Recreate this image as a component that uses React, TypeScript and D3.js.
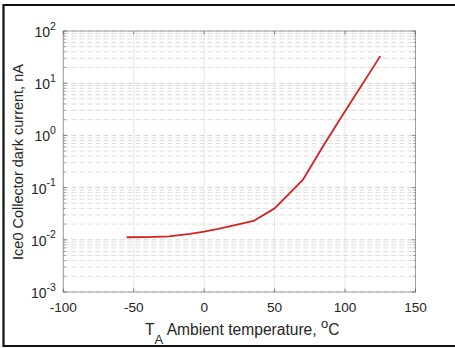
import * as d3 from 'd3'

// Ice0 collector dark current vs ambient temperature
const temps = [-55, -40, -25, -10, 0, 10, 25, 35, 50, 70, 85, 100, 125]
const current = [0.0112, 0.0113, 0.0116, 0.013, 0.0144, 0.0162, 0.02, 0.023, 0.04, 0.14, 0.66, 2.9, 33]

const xTicks = [-100, -50, 0, 50, 100, 150]
const yExps = [-3, -2, -1, 0, 1, 2]

const W = 455
const H = 348
const margin = { left: 63.3, right: 455 - 415.5, top: 31, bottom: 348 - 292 }
const font = 'Liberation Sans, Arial, Helvetica, sans-serif'

export default function App() {
  const x = d3.scaleLinear().domain([-100, 150]).range([margin.left, W - margin.right])
  const y = d3.scaleLog().domain([1e-3, 1e2]).range([H - margin.bottom, margin.top])
  const [x0, x1] = x.range()
  const [yb, yt] = y.range()

  // minor grid values 2..9 in each decade
  const minors: number[] = []
  yExps.slice(0, -1).forEach(e => {
    for (let k = 2; k <= 9; k++) minors.push(k * Math.pow(10, e))
  })

  const line = d3.line<number>().x((_, i) => x(temps[i])).y(d => y(d))

  return (
    <svg width={W} height={H} style={{ position: 'absolute', left: 0, top: 0, background: '#fff' }}
      fontFamily={font}>
      <rect x={0} y={0} width={W} height={H} fill="#fff" />
      {/* outer frame */}
      <path d={`M${W + 5},5 H3.5 V346 H${W + 5}`} fill="none" stroke="#111" strokeWidth={2.2} />

      {/* grid */}
      {minors.map(v => (
        <line key={'m' + v} x1={x0} x2={x1} y1={y(v)} y2={y(v)}
          stroke="#d4d4d4" strokeWidth={0.8} strokeDasharray="5,3" />
      ))}
      {yExps.map(e => (
        <line key={'M' + e} x1={x0} x2={x1} y1={y(Math.pow(10, e))} y2={y(Math.pow(10, e))}
          stroke="#c8c8c8" strokeWidth={0.8} strokeDasharray="5,3" />
      ))}
      {xTicks.map(t => (
        <line key={'g' + t} x1={x(t)} x2={x(t)} y1={yt} y2={yb} stroke="#e0e0e0" strokeWidth={0.8} />
      ))}

      {/* axes box */}
      <rect x={x0} y={yt} width={x1 - x0} height={yb - yt} fill="none" stroke="#a0a0a0" strokeWidth={1} />
      {xTicks.map(t => (
        <g key={'xt' + t}>
          <line x1={x(t)} x2={x(t)} y1={yb} y2={yb - 3.5} stroke="#666" strokeWidth={0.8} />
          <line x1={x(t)} x2={x(t)} y1={yt} y2={yt + 3.5} stroke="#666" strokeWidth={0.8} />
        </g>
      ))}
      {minors.map(v => (
        <g key={'yt' + v}>
          <line x1={x0} x2={x0 + 2} y1={y(v)} y2={y(v)} stroke="#777" strokeWidth={0.8} />
          <line x1={x1} x2={x1 - 2} y1={y(v)} y2={y(v)} stroke="#777" strokeWidth={0.8} />
        </g>
      ))}
      {yExps.map(e => (
        <g key={'yM' + e}>
          <line x1={x0} x2={x0 + 3.5} y1={y(Math.pow(10, e))} y2={y(Math.pow(10, e))} stroke="#666" strokeWidth={0.8} />
          <line x1={x1} x2={x1 - 3.5} y1={y(Math.pow(10, e))} y2={y(Math.pow(10, e))} stroke="#666" strokeWidth={0.8} />
        </g>
      ))}

      {/* data */}
      <path d={line(current) ?? ''} fill="none" stroke="#d42222" strokeWidth={1.8} strokeLinejoin="round" />

      {/* x tick labels */}
      {xTicks.map(t => (
        <text key={'xl' + t} x={x(t)} y={yb + 20} textAnchor="middle" fontSize={13.6} fill="#262626">
          {t}
        </text>
      ))}
      {/* y tick labels */}
      {yExps.map(e => (
        <text key={'yl' + e} x={x0 - 7.5} y={y(Math.pow(10, e)) + 6} textAnchor="end" fontSize={14} fill="#262626">
          10<tspan dy={-7.5} fontSize={10.5}>{e}</tspan>
        </text>
      ))}

      {/* axis titles */}
      <text x={145} y={335} fontSize={15.6} fill="#262626">
        T<tspan dy={9} fontSize={13}>A</tspan>
        <tspan dy={-9}> Ambient temperature, </tspan>
        <tspan dy={-7} fontSize={13}>o</tspan>
        <tspan dy={7}>C</tspan>
      </text>
      <text transform={`translate(23,${(yt + yb) / 2 + 0.5}) rotate(-90)`} textAnchor="middle"
        fontSize={14.5} fill="#262626">
        Ice0 Collector dark current, nA
      </text>
    </svg>
  )
}
